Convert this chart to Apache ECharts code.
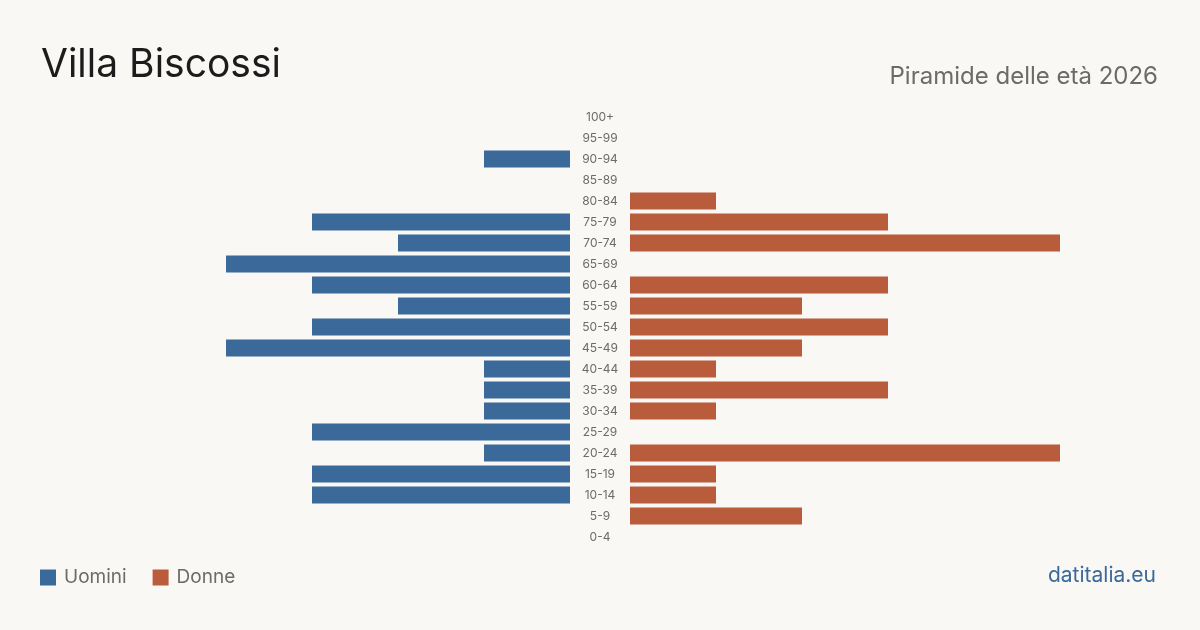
<!DOCTYPE html>
<html>
<head>
    <meta charset="utf-8">
    <title>Villa Biscossi</title>
    <script src="https://cdn.jsdelivr.net/npm/echarts@6/dist/echarts.min.js"></script>
    <style>
        html, body { margin: 0; padding: 0; background: #f9f8f4; }
    </style>
</head>
<body>
    <div id="main" style="width: 1200px;height:630px;"></div>
    <script type="text/javascript">
    // classi di età, dall'alto verso il basso
    var classi = ['100+', '95-99', '90-94', '85-89', '80-84', '75-79', '70-74', '65-69', '60-64', '55-59',
        '50-54', '45-49', '40-44', '35-39', '30-34', '25-29', '20-24', '15-19', '10-14', '5-9', '0-4'];
    var uomini = [0, 0, 1, 0, 0, 3, 2, 4, 3, 2, 3, 4, 1, 1, 1, 3, 1, 3, 3, 0, 0];
    var donne  = [0, 0, 0, 0, 1, 3, 5, 0, 3, 2, 3, 2, 1, 3, 1, 0, 5, 1, 1, 2, 0];

    var font = 'Inter, "Noto Sans", sans-serif';
    var myChart = echarts.init(document.getElementById('main'));
    myChart.setOption({
        backgroundColor: '#f9f8f4',
        animation: false,
        title: [
            { text: 'Villa Biscossi', left: 41, top: 46, padding: 0,
              textStyle: { fontFamily: font, fontSize: 39, fontWeight: 'normal', color: '#1c1c1c' } },
            { text: 'Piramide delle età 2026', right: 42, top: 65, padding: 0,
              textStyle: { fontFamily: font, fontSize: 24, fontWeight: 'normal', color: '#6b6b6b' } }
        ],
        legend: {
            left: 40, top: 568, padding: 0,
            itemWidth: 16, itemHeight: 16, itemGap: 26,
            icon: 'rect',
            data: ['Uomini', 'Donne'],
            textStyle: { fontFamily: font, fontSize: 19, color: '#6b6b6b', padding: [0, 0, 0, 3] }
        },
        graphic: [{
            type: 'text', right: 44, top: 565,
            style: { text: 'datitalia.eu', fill: '#3b6a9a', font: '21px ' + font }
        }],
        grid: [
            { left: 140, right: 630, top: 106.5, height: 441 },
            { left: 630, right: 140, top: 106.5, height: 441 }
        ],
        xAxis: [
            { gridIndex: 0, type: 'value', min: 0, max: 5, inverse: true, show: false },
            { gridIndex: 1, type: 'value', min: 0, max: 5, show: false }
        ],
        yAxis: [
            { gridIndex: 0, type: 'category', data: classi, inverse: true, show: false },
            { gridIndex: 1, type: 'category', data: classi, inverse: true, position: 'left',
              axisLine: { show: false }, axisTick: { show: false },
              axisLabel: { margin: 30, align: 'center', fontFamily: font, fontSize: 12, color: '#6b6b6b' } }
        ],
        series: [
            { name: 'Uomini', type: 'bar', xAxisIndex: 0, yAxisIndex: 0, data: uomini,
              barWidth: 17, itemStyle: { color: '#3b6a9a' } },
            { name: 'Donne', type: 'bar', xAxisIndex: 1, yAxisIndex: 1, data: donne,
              barWidth: 17, itemStyle: { color: '#b95c3c' } }
        ]
    });
    </script>
</body>
</html>
